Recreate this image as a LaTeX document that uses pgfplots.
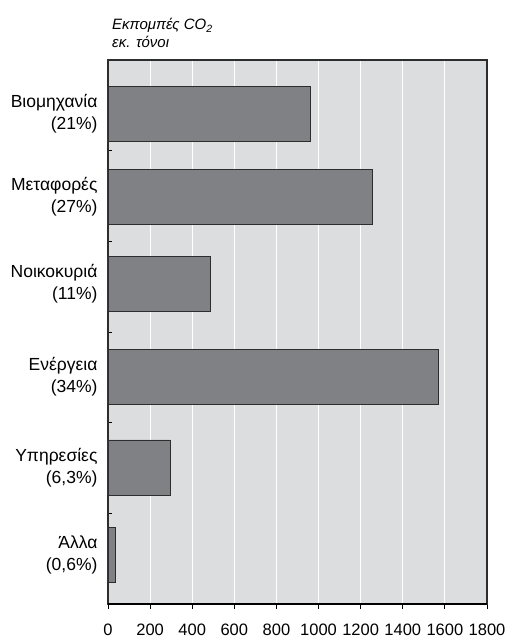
\documentclass[border=0pt]{standalone}
\usepackage{pgfplots}
\pgfplotsset{compat=1.18}
\usepackage{fontspec}
\setmainfont{Liberation Sans}
\definecolor{bgc}{RGB}{220,221,223}
\definecolor{barc}{RGB}{128,129,132}
\definecolor{framec}{RGB}{45,45,45}
\begin{document}
\begin{tikzpicture}
\begin{axis}[
  scale only axis,
  width=379pt, height=544pt,
  xmin=0, xmax=1800,
  ymin=-0.5, ymax=5.5,
  y dir=reverse,
  xtick={0,200,...,1800},
  xmajorgrids,
  grid style={white, line width=1pt},
  ytick={0.098,1.013,1.968,2.993,3.994,4.959},
  yticklabels={{Βιομηχανία\\(21\%)},{Μεταφορές\\(27\%)},{Νοικοκυριά\\(11\%)},{Ενέργεια\\(34\%)},{Υπηρεσίες\\(6,3\%)},{Άλλα\\(0,6\%)}},
  yticklabel style={align=right, font=\fontsize{17.5}{22}\selectfont, xshift=-2pt},
  xticklabel style={font=\fontsize{16.5}{18}\selectfont, yshift=-11pt},
  /pgf/number format/assume math mode=true,
  /pgf/number format/1000 sep={},
  major y tick style={draw=none},
  minor ytick={0.5,1.5,...,4.5},
  minor tick length=5pt,
  minor y tick style={black, line width=1pt, xshift=4pt},
  tick align=outside,
  xtick pos=bottom,
  ytick pos=left,
  major x tick style={black, line width=0.8pt},
  major tick length=5pt,
  axis line style={framec, line width=1.2pt},
  axis background/.style={fill=bgc},
  xbar, bar width=0.607,
  clip=false,
]
\addplot[fill=barc, draw=framec, line width=0.8pt] coordinates {
  (960,0.098) (1258,1.013) (485,1.968) (1570,2.993) (295,3.994) (35,4.959)
};
\draw[black, line width=2.5pt] (rel axis cs:0,0) -- (rel axis cs:1,0);
\node[anchor=base west, font=\fontsize{15}{17}\selectfont\itshape, inner sep=0pt]
  at ([xshift=4pt, yshift=30pt]rel axis cs:0,1) {Εκπομπές CO\textsubscript{2}};
\node[anchor=base west, font=\fontsize{15}{17}\selectfont\itshape, inner sep=0pt]
  at ([xshift=4pt, yshift=12pt]rel axis cs:0,1) {εκ. τόνοι};
\end{axis}
\pgfresetboundingbox
\path ([shift={(-108pt,-34pt)}]current axis.south west) rectangle ([shift={(18pt,60pt)}]current axis.north east);
\end{tikzpicture}
\end{document}
